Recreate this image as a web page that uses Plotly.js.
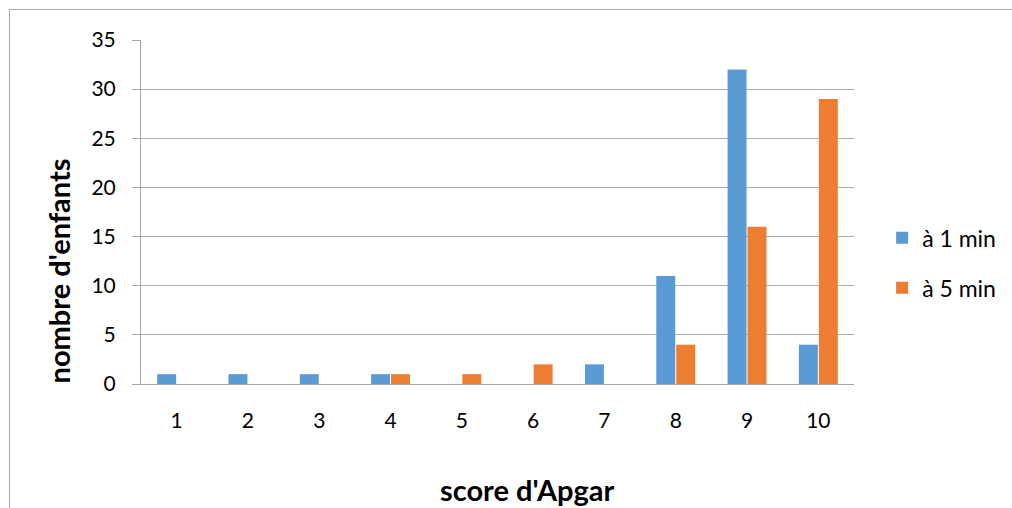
<!DOCTYPE html>
<html><head><meta charset="utf-8">
<script src="https://cdn.plot.ly/plotly-3.0.1.min.js"></script>
<style>html,body{margin:0;padding:0;background:#fff;overflow:hidden}
#frame{position:absolute;left:9px;top:9px;width:1100px;height:600px;border-left:1px solid #A6A6A6;border-top:1px solid #A6A6A6;pointer-events:none;z-index:5}
#chart{width:1012px;height:508px}</style>
</head><body>
<div id="frame"></div>
<div id="chart"></div>
<script>
const categories = ['1','2','3','4','5','6','7','8','9','10'];
const oneMin = [1,1,1,1,0,0,2,11,32,4];
const fiveMin = [0,0,0,1,1,2,0,4,16,29];
const seriesNames = ['à 1 min','à 5 min'];
const yTicks = [0,5,10,15,20,25,30,35];
const xTitle = "score d'Apgar";
const yTitle = "nombre d'enfants";

const font = 'Lato, "Open Sans", sans-serif';
const traces = [
  {type:'bar', x:categories, y:oneMin, name:seriesNames[0], legendgroup:'a',
   marker:{color:'#5B9BD5', line:{width:0}}},
  {type:'bar', x:categories, y:fiveMin, name:seriesNames[1], legendgroup:'b',
   marker:{color:'#ED7D31', line:{width:0}}}
];
const layout = {
  width:1012, height:508,
  margin:{l:141, r:157, t:40, b:124},
  paper_bgcolor:'#fff', plot_bgcolor:'#fff',
  font:{family:font, size:21, color:'#000'},
  barmode:'group', bargap:0.44, bargroupgap:0.05,
  xaxis:{type:'category', showgrid:false, showline:true, linecolor:'#A6A6A6', linewidth:1,
    ticks:'', ticklabelstandoff:18, tickfont:{size:21}},
  yaxis:{range:[0,35], tickvals:yTicks, showgrid:true, gridcolor:'#ADADAD', gridwidth:1,
    showline:true, linecolor:'#A6A6A6', ticks:'outside', ticklen:8, tickcolor:'#A6A6A6',
    ticklabelstandoff:12, zeroline:false, tickfont:{size:21}},
  annotations:[
    {text:xTitle, xref:'paper', yref:'paper', x:0.542, y:-0.308, xanchor:'center', yanchor:'middle',
     showarrow:false, font:{size:29, family:font, weight:'bold'}},
    {text:yTitle, xref:'paper', yref:'paper', x:-0.116, y:0.328, xanchor:'center', yanchor:'middle',
     textangle:-90, showarrow:false, font:{size:29, family:font, weight:'bold'}}
  ],
  showlegend:true,
  legend:{x:1.038, xanchor:'left', y:0.352, yanchor:'middle', tracegroupgap:17,
    font:{size:23}, itemwidth:30, bgcolor:'rgba(0,0,0,0)'}
};
Plotly.newPlot('chart', traces, layout, {displayModeBar:false, staticPlot:true});
</script>
</body></html>
